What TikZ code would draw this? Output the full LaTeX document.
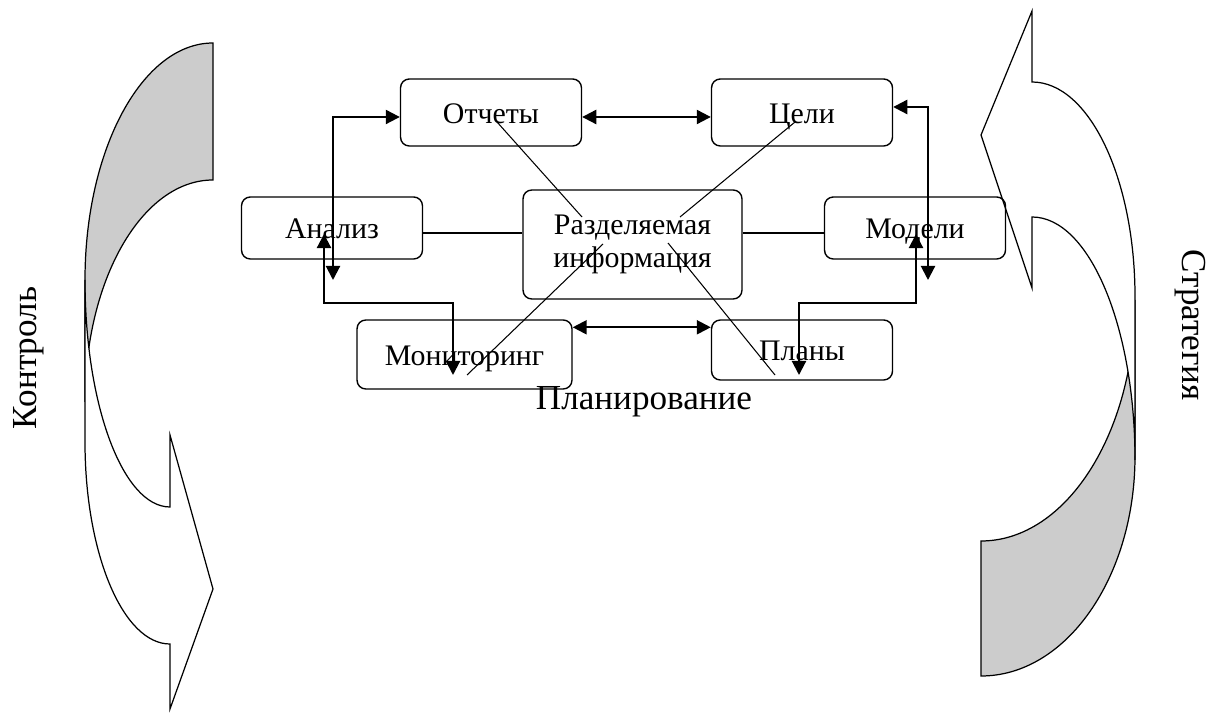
\documentclass[tikz,border=0pt]{standalone}
\usepackage{fontspec}
\setmainfont{Liberation Serif}
\usetikzlibrary{arrows.meta}

\begin{document}
\begin{tikzpicture}[x=0.02cm, y=-0.02cm,
    font=\fontsize{20}{20}\selectfont,
    blk/.style={draw, rounded corners=5pt, line width=0.8pt,
      minimum width=3.62cm, inner sep=0pt, font=\fontsize{17}{19}\selectfont},
    one/.style={text height=14pt, text depth=2pt},
    link/.style={line width=1.2pt,
      {Triangle[length=8pt,width=8pt]}-{Triangle[length=8pt,width=8pt]}},
    conn/.style={line width=1.2pt},
    diag/.style={line width=0.6pt},
    band/.style={line width=0.7pt}]
\useasboundingbox (0,0) rectangle (1216,715);
% left curved arrow (back part, then front part)
    \draw[band, fill=black!20] (213,43)
      arc[start angle=-90, end angle=-180, x radius=128, y radius=237]
      -- (85,402)
      arc[start angle=180, end angle=270, x radius=128, y radius=222] -- cycle;
    \draw[band, fill=white] (85,280) -- (85,442)
      arc[start angle=180, end angle=90, x radius=85, y radius=202]
      -- (170,709) -- (213,589) -- (170,435) -- (170,507)
      arc[start angle=90, end angle=180, x radius=85, y radius=227] -- cycle;
% right curved arrow
    \draw[band, fill=black!20] (1135,300) -- (1135,456)
      arc[start angle=0, end angle=90, x radius=154, y radius=220]
      -- (981,541)
      arc[start angle=90, end angle=0, x radius=154, y radius=241] -- cycle;
    \draw[band, fill=white] (1032,82)
      arc[start angle=-90, end angle=0, x radius=103, y radius=215]
      -- (1135,460)
      arc[start angle=0, end angle=-90, x radius=103, y radius=243]
      -- (1032,288) -- (981,135) -- (1032,11) -- cycle;
% boxes
    \node[blk, one, minimum height=1.34cm] (otch) at (491,112.5) {Отчеты};
    \node[blk, one, minimum height=1.34cm] (celi) at (802,112.5) {Цели};
    \node[blk, one, minimum height=1.24cm] (anal) at (332,228) {Анализ};
    \node[blk, minimum width=4.38cm, minimum height=2.18cm, align=center]
      (info) at (632.5,244.5) {Разделяемая\\информация};
    \node[blk, one, minimum height=1.24cm] (mod) at (915,228) {Модели};
    \node[blk, one, minimum width=4.3cm, minimum height=1.38cm] (mon) at (464.5,354.5) {Мониторинг};
    \node[blk, one, minimum height=1.2cm] (plan) at (802,350) {Планы};
    \node (plng) at (644,402) {Планирование};
    \node[rotate=90] (ctrl) at (29,358) {Контроль};
    \node[rotate=-90] (strat) at (1190,325) {Стратегия};
% arrows between boxes
    \draw[link] ([yshift=-0.09cm]otch.east) -- ([yshift=-0.09cm]otch.east -| celi.west);
    \draw[link] ([yshift=-0.16cm]mon.north east) -- ([yshift=-0.16cm]mon.north east -| plan.west);
    \coordinate (t1) at (333,280);
    \draw[link] (t1) |- ([yshift=-0.09cm]otch.west);
    \coordinate (t2) at (324,234);
    \coordinate (t3) at (453,375);
    \draw[link] (t2) -- ++(0,69) -| (t3);
    \coordinate (t4) at (928,280);
    \draw[link] ([yshift=0.11cm]celi.east) -| (t4);
    \coordinate (t5) at (916,234);
    \coordinate (t6) at (799,375);
    \draw[link] (t5) -- ++(0,69) -| (t6);
    \coordinate (l1) at ([yshift=-0.1cm]anal.east);
    \coordinate (l2) at ([yshift=-0.1cm]mod.west);
    \draw[conn] (l1) -- (l1 -| info.west);
    \draw[conn] (l2) -- (l2 -| info.east);
% crossing lines
    \coordinate (d1) at (497,122);  \coordinate (d1e) at (582,217);
    \coordinate (d2) at (795,122);  \coordinate (d2e) at (680,217);
    \coordinate (d3) at (467,375);  \coordinate (d3e) at (603,244);
    \coordinate (d4) at (775,375);  \coordinate (d4e) at (668,243);
    \draw[diag] (d1) -- (d1e);
    \draw[diag] (d2) -- (d2e);
    \draw[diag] (d3) -- (d3e);
    \draw[diag] (d4) -- (d4e);
\end{tikzpicture}
\end{document}
